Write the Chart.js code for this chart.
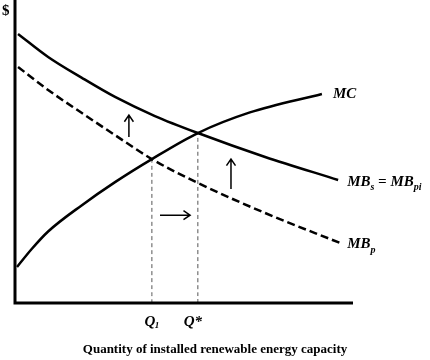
<!DOCTYPE html>
<html>
<head>
    <title>Renewable energy capacity: MB and MC</title>
    <style type="text/css">
        body {
            margin: 0;
            background: #fff;
        }

        #chart-container {
            width: 430px;
            height: 360px;
        }
    </style>
    <script type="text/javascript" src="https://cdn.jsdelivr.net/npm/chart.js@4/dist/chart.umd.min.js"></script>
</head>
<body>

<div id="chart-container">
    <canvas id="graphCanvas"></canvas>
</div>

<script>
    // values, axes run 0..100
    var mbsQ = [0.9, 9.8, 19.8, 29.6, 41.4, 54.1, 74.0, 95.6];
    var mbsP = [88.8, 81.2, 74.3, 68.0, 61.7, 56.1, 48.2, 40.6];

    var mbpQ = [0.9, 9.8, 19.8, 29.6, 40.5, 54.1, 74.0, 96.2];
    var mbpP = [77.9, 70.3, 62.7, 55.4, 47.5, 39.6, 29.7, 19.8];

    var mcQ = [0.6, 5.0, 9.8, 19.8, 29.6, 40.5, 54.1, 69.5, 90.8];
    var mcP = [11.9, 17.9, 23.6, 32.3, 39.9, 47.5, 56.1, 62.9, 69.0];

    var q1 = 40.5, q1Price = 47.5;
    var qStar = 54.1, qStarPrice = 56.1;

    // arrows: [x1, y1, x2, y2] in data units
    var arrows = [
        [33.7, 54.8, 33.7, 62.0],
        [63.9, 37.6, 63.9, 47.5],
        [42.9, 29.0, 51.8, 29.0]
    ];

    function pts(xs, ys) {
        var out = [];
        for (var i in xs) {
            out.push({x: xs[i], y: ys[i]});
        }
        return out;
    }

    var serif = '"Liberation Serif", "DejaVu Serif", serif';

    var labelsPlugin = {
        id: 'labels',
        afterDatasetsDraw: function (chart) {
            var ctx = chart.ctx;
            var xs = chart.scales.x, ys = chart.scales.y;
            var a = chart.chartArea;
            ctx.save();

            // axes
            ctx.strokeStyle = '#000';
            ctx.lineWidth = 3;
            ctx.beginPath();
            ctx.moveTo(a.left, a.top);
            ctx.lineTo(a.left, a.bottom);
            ctx.lineTo(a.right, a.bottom);
            ctx.stroke();

            // arrows
            ctx.lineWidth = 1.5;
            arrows.forEach(function (r) {
                var x1 = xs.getPixelForValue(r[0]), y1 = ys.getPixelForValue(r[1]);
                var x2 = xs.getPixelForValue(r[2]), y2 = ys.getPixelForValue(r[3]);
                var ang = Math.atan2(y2 - y1, x2 - x1);
                ctx.beginPath();
                ctx.moveTo(x1, y1);
                ctx.lineTo(x2, y2);
                ctx.moveTo(x2 - 8 * Math.cos(ang - 0.6), y2 - 8 * Math.sin(ang - 0.6));
                ctx.lineTo(x2, y2);
                ctx.lineTo(x2 - 8 * Math.cos(ang + 0.6), y2 - 8 * Math.sin(ang + 0.6));
                ctx.stroke();
            });

            ctx.fillStyle = '#000';
            ctx.textBaseline = 'middle';

            ctx.font = 'bold 15px ' + serif;
            ctx.textAlign = 'left';
            ctx.fillText('$', 2, 11);

            // curve labels
            ctx.font = 'italic bold 15px ' + serif;
            var mcEnd = mcQ.length - 1;
            ctx.fillText('MC', xs.getPixelForValue(mcQ[mcEnd]) + 11, ys.getPixelForValue(mcP[mcEnd]));

            var x0 = xs.getPixelForValue(mbsQ[mbsQ.length - 1]) + 9;
            var y0 = ys.getPixelForValue(mbsP[mbsP.length - 1]) + 2;
            ctx.fillText('MB', x0, y0);
            var w = ctx.measureText('MB').width;
            ctx.font = 'italic bold 10px ' + serif;
            ctx.fillText('s', x0 + w, y0 + 5);
            var w2 = ctx.measureText('s').width;
            ctx.font = 'italic bold 15px ' + serif;
            ctx.fillText(' = MB', x0 + w + w2, y0);
            var w3 = ctx.measureText(' = MB').width;
            ctx.font = 'italic bold 10px ' + serif;
            ctx.fillText('pi', x0 + w + w2 + w3, y0 + 5);

            x0 = xs.getPixelForValue(mbpQ[mbpQ.length - 1]) + 7;
            y0 = ys.getPixelForValue(mbpP[mbpP.length - 1]) + 1;
            ctx.font = 'italic bold 15px ' + serif;
            ctx.fillText('MB', x0, y0);
            w = ctx.measureText('MB').width;
            ctx.font = 'italic bold 10px ' + serif;
            ctx.fillText('p', x0 + w, y0 + 6);

            // quantity labels
            ctx.font = 'italic bold 15px ' + serif;
            ctx.textAlign = 'center';
            var xq1 = xs.getPixelForValue(q1);
            ctx.fillText('Q', xq1 - 2, a.bottom + 19);
            ctx.font = 'italic bold 9px ' + serif;
            ctx.fillText('1', xq1 + 5, a.bottom + 23);
            ctx.font = 'italic bold 15px ' + serif;
            ctx.fillText('Q*', xs.getPixelForValue(qStar) - 5, a.bottom + 19);

            ctx.font = 'bold 13px ' + serif;
            ctx.fillText('Quantity of installed renewable energy capacity', 215, 350);
            ctx.restore();
        }
    };

    var lineStyle = {
        showLine: true,
        fill: false,
        pointRadius: 0,
        borderColor: '#000',
        cubicInterpolationMode: 'monotone'
    };

    var chartdata = {
        datasets: [
            Object.assign({label: 'MBs = MBpi', data: pts(mbsQ, mbsP), borderWidth: 2.5}, lineStyle),
            Object.assign({label: 'MBp', data: pts(mbpQ, mbpP), borderWidth: 2.5, borderDash: [8, 4]}, lineStyle),
            Object.assign({label: 'MC', data: pts(mcQ, mcP), borderWidth: 2.5}, lineStyle),
            Object.assign({}, lineStyle, {label: 'Q1', data: [{x: q1, y: 0}, {x: q1, y: q1Price}], borderWidth: 1, borderColor: '#555', borderDash: [4, 3]}),
            Object.assign({}, lineStyle, {label: 'Q*', data: [{x: qStar, y: 0}, {x: qStar, y: qStarPrice}], borderWidth: 1, borderColor: '#555', borderDash: [4, 3]})
        ]
    };

    var graphTarget = document.getElementById('graphCanvas');

    var lineGraph = new Chart(graphTarget, {
        type: 'scatter',
        data: chartdata,
        options: {
            responsive: true,
            maintainAspectRatio: false,
            animation: false,
            layout: {padding: {left: 15, top: 0, right: 77, bottom: 57}},
            plugins: {legend: {display: false}, tooltip: {enabled: false}},
            scales: {
                x: {type: 'linear', min: 0, max: 100, display: false},
                y: {type: 'linear', min: 0, max: 100, display: false}
            }
        },
        plugins: [labelsPlugin]
    });
</script>

</body>
</html>
